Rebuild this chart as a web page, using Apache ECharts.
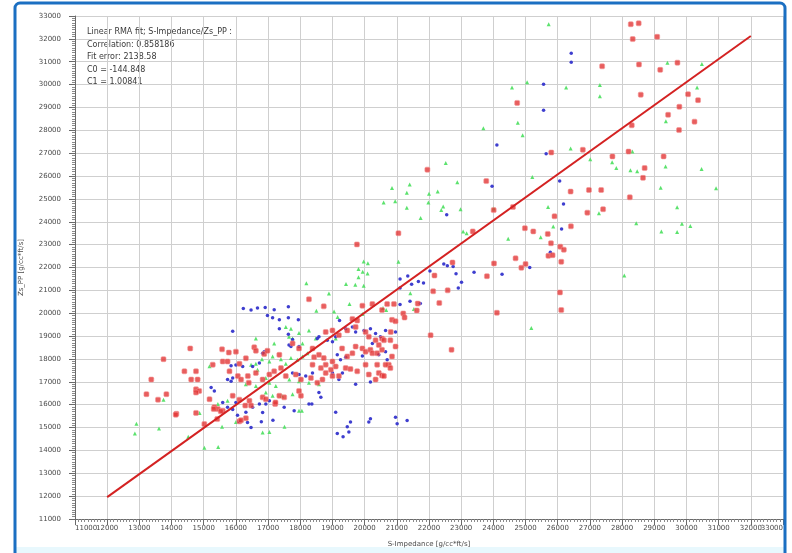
<!DOCTYPE html>
<html>
<head>
<meta charset="utf-8">
<script src="https://cdn.jsdelivr.net/npm/echarts@6/dist/echarts.min.js"></script>
<style>
  html, body { margin: 0; padding: 0; background: #ffffff; }
  #chart { width: 792px; height: 553px; }
</style>
</head>
<body>
<div id="chart"></div>
<script>
// Crossplot of S-Impedance vs Zs_PP with a linear RMA fit line.

const xTitle = 'S-Impedance [g/cc*ft/s]';
const yTitle = 'Zs_PP [g/cc*ft/s]';
const axisMin = 11000;
const axisMax = 33000;
const axisStep = 1000;

// Fit statistics
const fitLines = [
  'Linear RMA fit; S-Impedance/Zs_PP :',
  'Correlation: 0.858186',
  'Fit error: 2138.58',
  'C0 = -144.848',
  'C1 = 1.00841'
];
const C0 = -144.848;
const C1 = 1.00841;
const fitRange = [12000, 32000];

// Sample groups: [S-Impedance, Zs_PP]
const redPoints = [
  [28270,32640],[28515,32680],[28330,31990],[29090,32090],[27380,30800],[28525,30880],[29720,30960],[29185,30645],
  [28580,29560],[30050,29580],[30360,29320],[24740,29200],[29780,29030],[29430,28680],[30250,28380],[28300,28220],
  [29770,28010],[25800,27030],[26780,27150],[27700,26860],[28200,27070],[29290,26860],
  [21950,26280],[28700,26350],[28650,25920],[23780,25780],[26400,25320],[26970,25390],[27350,25390],[28240,25070],
  [24010,24510],[24610,24650],[25900,24240],[26920,24400],[27410,24550],[21050,23500],[23360,23580],[24980,23720],
  [25240,23580],[26410,23800],[25690,23470],[25790,23060],[26080,22910],[26190,22780],[26110,22250],[25710,22510],
  [25840,22540],[24690,22400],[25000,22150],[24870,21990],[24020,22180],[23800,21620],[26070,20910],[26110,20140],
  [24110,20020],[22050,19040],[22730,22220],[22170,21650],[22130,20960],[22580,21000],[22320,20450],[21650,20420],
  [21620,20120],[21200,19990],[21240,19810],[19760,23010],[22700,18400],
  [18270,20610],[18730,20300],[19930,20330],[20240,20400],[20700,20400],[20910,20400],[20540,20140],[19620,19750],
  [19770,19680],[20850,19710],[20960,19650],
  [18790,19180],[19000,19250],[19200,19040],[19460,19250],[19720,19400],[20030,19180],[20130,18970],[20340,18820],
  [20540,18890],[20600,18820],[20810,19180],
  [13750,17990],[14580,18460],[15570,18420],[15780,18280],[16000,18320],[16310,18030],[16570,18510],[16620,18360],
  [16880,18220],[16980,18360],[17350,18180],
  [17760,18680],[17960,18460],[18380,18460],[18430,18080],[18580,18180],[18730,18040],[19000,17890],[19300,18460],
  [19460,18110],[19620,18250],[19720,18540],[19930,18460],[20030,18320],[20180,18400],[20240,18250],[20440,18610],
  [20390,18250],[20540,18400],[20750,17750],[20850,18110],[20960,18540],[20800,18820],
  [18380,17750],[18640,17600],[18790,17750],[18950,17530],[19100,17670],
  [13370,17100],[14400,17460],[14760,17460],[14610,17100],[14810,17100],[14760,16670],[14860,16600],[14760,16530],
  [15280,17750],[15590,17890],[15740,17890],[16110,17790],
  [15800,17460],[16060,17250],[16160,17100],[16370,17250],[16400,16960],[16620,17390],[16830,17100],[17040,17320],
  [17190,17460],[17400,17600],[17550,17250],[17860,17320],[18020,17100],[18330,17170],[18530,16960],[18690,17100],
  [18790,17390],[19000,17250],[19200,17250],[19410,17600],[19560,17560],[19770,17460],[20030,17750],[20130,17320],
  [20340,17100],[20390,17750],[20440,17390],[20540,17280],[20650,17750],[20800,17600],[20600,17250],
  [13220,16460],[13580,16220],[13840,16460],[14150,15600],[14760,15640],[15180,16240],[15330,15890],[15440,15810],
  [15590,15740],
  [15900,16390],[16110,16220],[16290,15960],[16420,16170],[16470,15960],[16830,16320],[16930,16240],[17220,16030],
  [17350,16390],[17500,16320],[17960,16600],[18020,16390],
  [16110,15270],[16310,15410],
  [15020,15150],[15420,15370],[14130,15560],[15310,15810],[15530,15710],[16160,15320],[17230,16100]
];

const bluePoints = [
  [26420,31370],[26420,30980],[25560,30010],[25560,28880],[24110,27360],[25640,26970],
  [23960,25550],[26060,25780],[22550,24310],[26180,24780],[26120,23680],[25770,22670],[25130,22000],[24270,21710],
  [23400,21790],
  [22460,22150],[22570,22080],[22750,22040],[22840,21730],[23010,21360],[22910,21100],[22030,21850],[21830,21320],
  [21670,21390],[21460,21270],[21340,21630],[21100,21100],[21410,20520],[21100,20380],[21100,21500],
  [21730,20430],[16230,20210],[16470,20140],[16670,20230],[16910,20250],[17190,20150],[17630,20280],
  [16980,19900],[17350,19710],[17940,19710],[17630,19800],[17140,19800],[19220,19680],
  [15900,19210],[17760,18850],[17650,18610],[17710,18540],[17960,18540],[17350,19320],[17630,19080],
  [18530,18890],[18580,18970],[18840,18820],[19000,18750],[19100,18970],
  [19410,19320],[19620,19400],[19720,19180],[19980,19250],[20180,19320],[20340,19110],[20490,18970],[20650,19250],
  [20960,19180],
  [15850,17700],[16000,17740],[16210,17670],[16830,18250],[16880,18320],[16520,17670],[16730,17820],
  [19150,18180],[19250,17960],[19410,18080],[19930,18130],[20240,18680],[20440,18180],[20650,18320],[20700,17960],
  [15230,16750],[15330,16600],[15740,17100],[15850,17030],[15900,17170],
  [17960,17320],[17760,17390],[18170,17250],[18380,17390],[19000,17390],[19200,17100],[19310,17390],[19720,16890],
  [20180,16990],
  [15590,16100],[15740,15890],[15900,15790],
  [16000,16100],[16310,15670],[16520,15890],[16730,16030],[16930,16030],[17040,16170],[17500,15890],[17810,15740],
  [18270,16030],[18580,16530],[18640,16320],
  [19100,15670],[19150,14740],[19460,15030],[19560,15240],[19510,14810],[20180,15380],[20130,15240],[20960,15450],
  [21010,15170],[21320,15310],[19330,14600],
  [16050,15540],[16100,15250],[16360,15220],[16470,15000],[16790,15250],[17150,15320],[16830,15660],[18360,16030]
];

const greenPoints = [
  [25720,32640],[29410,30960],[30480,30900],[25050,30100],[24580,29870],[26260,29870],[27310,29980],[27310,29490],
  [30330,29870],[29360,28400],[24760,28330],[23690,28090],[24910,27780],[26400,27210],[28320,27070],[27010,26740],
  [22520,26570],[27690,26600],[27820,26350],[28260,26250],[28470,26210],[29350,26420],[30470,26310],[30920,25470],
  [21400,25630],[21310,25270],[22000,25230],[22270,25320],[22880,25730],[25210,25960],[29200,25490],[29710,24640],
  [21310,24610],[21980,24840],[22380,24510],[22440,24670],[22980,24550],[21740,24170],[24010,24580],[25700,24650],
  [27280,24370],[28440,23940],[29220,23580],[29710,23550],[29860,23910],[30120,23810],[23060,23580],[23170,23500],
  [25860,23790],[25470,23320],[24460,23260],[21050,22250],[21420,20870],[28070,21650],[25180,19350],
  [20850,25480],[20590,24840],[20950,24900],[19970,22260],[20100,22190],[19810,21930],[19940,21810],[20090,21740],
  [19810,21570],[18190,21310],[19420,21280],[19710,21250],[19970,21200],
  [18890,20860],[18500,20110],[19050,20080],[19530,20400],[20670,20140],[19160,19830],[19930,19970],[20570,20230],
  [21530,20180],
  [16620,18890],[17190,18680],[17550,19400],[17710,19320],[17760,18890],[17960,19140],[18270,19250],[18480,18890],
  [18070,18680],[17650,18970],[19100,18890],
  [16620,17790],[16810,17990],[17040,17890],[17140,18110],[17400,17990],[17550,17790],[17710,18040],[17910,17960],
  [18070,18110],[18220,18250],
  [15180,17680],[16310,16890],[16620,16820],[16930,17170],[17040,16960],[17240,16820],[17660,17100],[17960,17030],
  [18270,16960],[18580,16890],[16670,17530],[16470,17750],
  [13750,16220],[14870,15640],[15440,16030],[15740,16170],
  [16930,16530],[17140,16390],[17430,16390],[17760,16460],[17960,15740],[16000,15240],
  [12910,15170],[12860,14740],[13610,14960],
  [15020,14120],[15450,14150],[15570,15030],[16830,14780],[17040,14810],[17510,15030],[18050,15740],[14520,14600]
];

const fitData = fitRange.map(x => [x, C0 + C1 * x]);

const chart = echarts.init(document.getElementById('chart'), null, { renderer: 'canvas' });

const FONT = 'DejaVu Sans';
const labelColor = '#4a4a4a';
const gridColor = '#cfcfcf';

function valueAxis(extra) {
  return Object.assign({
    type: 'value',
    min: axisMin,
    max: axisMax,
    interval: axisStep,
    axisLine: { show: true, lineStyle: { color: '#6a6a6a', width: 1 } },
    axisTick: { show: true, length: 6, lineStyle: { color: '#6a6a6a' } },
    minorTick: { show: true, splitNumber: 10, length: 3, lineStyle: { color: '#8a8a8a' } },
    splitLine: { show: true, lineStyle: { color: gridColor, width: 1 } },
    nameTextStyle: { fontFamily: FONT, fontSize: 7, color: labelColor },
  }, extra);
}

const plainNumber = v => String(v);
const xLabelStyle = { fontFamily: FONT, fontSize: 7, color: labelColor, margin: 6, hideOverlap: false };

const textGraphics = fitLines.map((t, i) => ({
  type: 'text',
  left: 87,
  top: 28 + i * 12.6,
  style: { text: t, font: '8px "DejaVu Sans"', fill: '#3a3a3a' },
  silent: true
}));

chart.setOption({
  animation: false,
  backgroundColor: '#ffffff',
  grid: { left: 75, right: 9, top: 16, bottom: 31, containLabel: false },
  xAxis: [
    valueAxis({
      position: 'bottom',
      name: xTitle,
      nameLocation: 'middle',
      nameGap: 22,
      axisLabel: Object.assign({}, xLabelStyle, {
        formatter: plainNumber,
        showMinLabel: false, showMaxLabel: false
      })
    }),
    // End labels of the horizontal scale, pinned to the plot edges
    {
      type: 'value',
      position: 'bottom',
      offset: 0,
      min: axisMin,
      max: axisMax,
      interval: axisStep,
      axisLine: { show: false },
      axisTick: { show: false },
      minorTick: { show: false },
      splitLine: { show: false },
      axisLabel: Object.assign({}, xLabelStyle, {
        formatter: v => (v === axisMin || v === axisMax) ? String(v) : '',
        showMinLabel: true, showMaxLabel: true,
        alignMinLabel: 'left', alignMaxLabel: 'right'
      })
    }
  ],
  yAxis: valueAxis({
    name: yTitle,
    nameLocation: 'middle',
    nameGap: 50,
    nameRotate: 90,
    axisLabel: {
      fontFamily: FONT, fontSize: 7, color: labelColor, margin: 14,
      formatter: plainNumber,
      hideOverlap: false,
      showMinLabel: true, showMaxLabel: true
    }
  }),
  graphic: [
    {
      type: 'rect',
      shape: { x: 16, y: 547, width: 768, height: 7 },
      style: { fill: '#e8f8fd' },
      silent: true, z: 0
    },
    {
      type: 'rect',
      shape: { x: 15, y: 3, width: 770, height: 560, r: 5 },
      style: { fill: 'none', stroke: '#1b6fc2', lineWidth: 3 },
      silent: true, z: 100
    }
  ].concat(textGraphics),
  series: [
    {
      name: 'green',
      type: 'scatter',
      data: greenPoints,
      symbol: 'triangle',
      symbolSize: 4,
      itemStyle: { color: '#52e065', opacity: 0.95 },
      z: 3
    },
    {
      name: 'blue',
      type: 'scatter',
      data: bluePoints,
      symbol: 'circle',
      symbolSize: 3.5,
      itemStyle: { color: '#3434cc', opacity: 0.95 },
      z: 4
    },
    {
      name: 'red',
      type: 'scatter',
      data: redPoints,
      symbol: 'roundRect',
      symbolSize: 5,
      itemStyle: { color: '#e23636', borderColor: 'rgba(245,150,150,0.9)', borderWidth: 0.8 },
      z: 5
    },
    {
      name: 'fit',
      type: 'line',
      data: fitData,
      symbol: 'none',
      lineStyle: { color: '#d42222', width: 2 },
      z: 6
    }
  ]
});
</script>
</body>
</html>
